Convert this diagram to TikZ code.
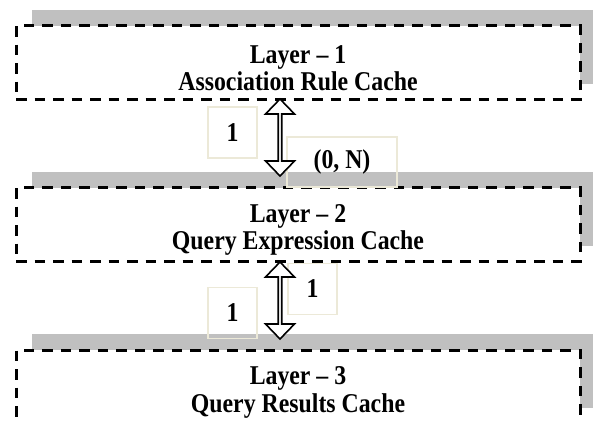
\documentclass[tikz,border=0pt]{standalone}
\usepackage{graphicx}
\usepackage{fontspec}
\setmainfont{Liberation Serif}
\usetikzlibrary{shapes.arrows,shadows}
\definecolor{shadegray}{RGB}{192,192,192}
\definecolor{cardline}{RGB}{236,233,216}
\newcommand{\tall}[1]{\scalebox{1}[1.14]{#1}}
\begin{document}
\begin{tikzpicture}[x=1pt, y=-1pt,
    every node/.style={inner sep=0pt, font=\fontsize{23.8}{27.5}\selectfont\bfseries},
    layer/.style={draw, line width=3pt, dash pattern=on 10.5pt off 8pt, fill=white,
      minimum width=564pt, minimum height=74pt,
      drop shadow={shadow xshift=16pt, shadow yshift=16pt, fill=shadegray, opacity=1}},
    title/.style={align=center, yshift=-5.5pt},
    card/.style={draw=cardline, line width=1.5pt, minimum width=49pt, minimum height=51pt},
    link/.style={draw, line width=1.6pt, fill=white, double arrow, rotate=90,
      minimum width=29pt, minimum height=77pt,
      double arrow head extend=6pt, double arrow tip angle=88}]
  \clip (0,0) rectangle (593,421);
  \node [layer] (1) at (298,62.5) {};
  \node [layer] (2) at (298,224.5) {};
  \node [layer] (3) at (298,387) {};
  \node [title] (t1) at (1.center) {\tall{Layer -- 1}\\\tall{Association Rule Cache}};
  \node [title] (t2) at (2.center) {\tall{Layer -- 2}\\\tall{Query Expression Cache}};
  \node [title] (t3) at (3.center) {\tall{Layer -- 3}\\\tall{Query Results Cache}};
  \node [card] (c1) at (232.5,132.5) {\tall{1}};
  \node [card, minimum width=110pt, minimum height=50pt] (c2) at (342,162) {\tall{(0, N)}};
  \node [card] (c3) at (232.5,313) {\tall{1}};
  \node [card] (c4) at (312.5,289) {\tall{1}};
  \node [link] (a) at (280,137.5) {};
  \node [link] (b) at (280,300.5) {};
\end{tikzpicture}
\end{document}
